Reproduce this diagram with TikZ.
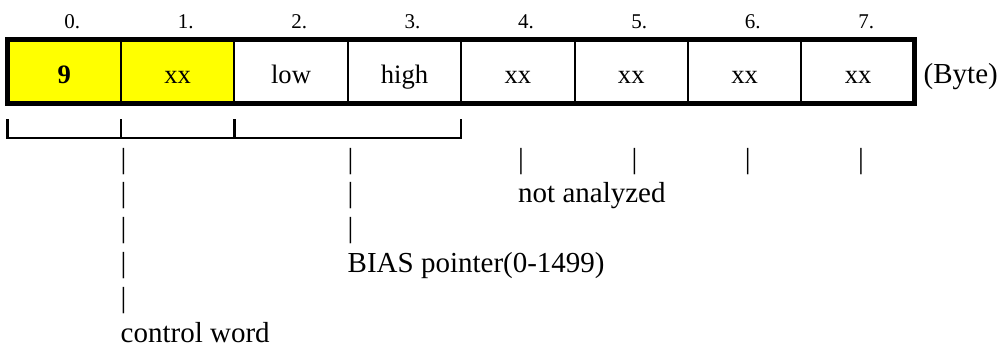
\documentclass[tikz,border=0pt]{standalone}
\usepackage{fontspec}
\setmainfont{Liberation Serif}
\usepackage{tikz}
\usepackage{xcolor}
\usetikzlibrary{positioning}
\definecolor{cYel}{HTML}{FFFF00}
\definecolor{cInk}{HTML}{000000}
\tikzset{
  cell/.style  ={draw=cInk,line width=2pt,minimum width=113.4pt,minimum height=63.5pt,
                 inner sep=0pt,outer sep=0pt,text height=24pt,text depth=0pt,
                 font=\fontsize{26.6}{32}\selectfont},
  frame/.style ={draw=cInk,line width=5pt},
  brk/.style   ={draw=cInk,line width=2.4pt},
  idx/.style   ={anchor=base west,inner sep=0pt,font=\fontsize{21}{25}\selectfont},
  note/.style  ={anchor=base west,inner sep=0pt,font=\fontsize{29}{34.8}\selectfont},
}
\begin{document}
\begin{tikzpicture}[x=1pt,y=-1pt]
\useasboundingbox (0,0) rectangle (999,349);
% byte cells
\node[cell,fill=cYel,font=\fontsize{26.6}{32}\selectfont\bfseries] (c0) at (64.25,71.25) {9};
\node[cell,fill=cYel,right=0pt of c0] (c1) {xx};
\node[cell,right=0pt of c1] (c2) {low};
\node[cell,right=0pt of c2] (c3) {high};
\foreach \i in {4,...,7}
  \node[cell] (c\i) at ({64.25+113.4*\i},71.25) {xx};
\draw[frame] (c0.north west) rectangle (c7.south east);
\foreach \i in {0,...,7}
  \node[idx] (n\i) at (c\i.north |- 0,28.3) {\i.};
\node[note] (unit) at (923.5,83.3) {(Byte)};
% bracket under bytes 0-3
\draw[brk] (c0.west |- 0,119) -- (c0.west |- 0,138) -- (c3.east |- 0,138) -- (c3.east |- 0,119);
\draw[brk] (c1.west |- 0,119) -- (c1.west |- 0,138);
\draw[brk] (c2.west |- 0,119) -- (c2.west |- 0,138);
% control word
\foreach \r in {0,...,4}
  \node[note] (cw\r) at (120.5,{168+34.8*\r}) {|};
\node[note] (cw) at (120.5,342) {control word};
% BIAS pointer
\foreach \r in {0,...,2}
  \node[note] (bp\r) at (347.5,{168+34.8*\r}) {|};
\node[note] (bp) at (347.5,272.4) {BIAS pointer(0-1499)};
% not analyzed
\foreach \i in {4,...,7}
  \node[note] (na\i) at ({518+113.3*(\i-4)},168) {|};
\node[note] (na) at (518,202.8) {not analyzed};
\end{tikzpicture}
\end{document}
